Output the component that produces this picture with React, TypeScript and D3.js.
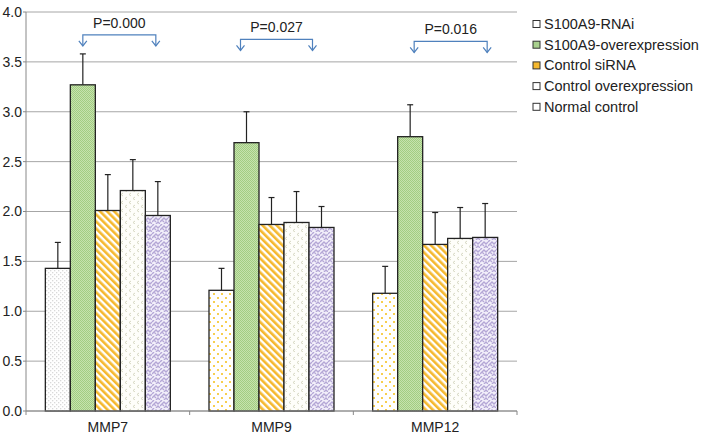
import React from "react";
import * as d3 from "d3";

const categories = ["MMP7", "MMP9", "MMP12"];
const seriesNames = [
  "S100A9-RNAi",
  "S100A9-overexpression",
  "Control siRNA",
  "Control overexpression",
  "Normal control",
];
const means = [
  [1.43, 1.21, 1.18],
  [3.27, 2.69, 2.75],
  [2.01, 1.87, 1.67],
  [2.21, 1.89, 1.73],
  [1.96, 1.84, 1.74],
];
const errTops = [
  [1.69, 1.43, 1.45],
  [3.58, 3.0, 3.07],
  [2.37, 2.14, 1.99],
  [2.52, 2.2, 2.04],
  [2.3, 2.05, 2.08],
];
const yTicks = [0, 0.5, 1.0, 1.5, 2.0, 2.5, 3.0, 3.5, 4.0];
const pLabels = ["P=0.000", "P=0.027", "P=0.016"];
const pLevels = [3.77, 3.725, 3.705];

const W = 703;
const H = 436;
const left = 26;
const right = 517;
const top = 12;
const bottom = 411;
// bracket end offsets (px) from the bar centres of the compared bars
const bracketOffL = [0, -6, 4];
const bracketOffR = [-2, -9, 2];

export default function App() {
  const x0 = d3.scaleBand().domain(categories).range([left, right]).padding(0);
  const bandW = x0.bandwidth();
  const innerW = 125;
  const x1 = d3.scaleBand().domain(seriesNames).range([0, innerW]).padding(0);
  const y = d3.scaleLinear().domain([0, 4]).range([bottom, top]);
  const font = "'Liberation Sans', Arial, Helvetica, sans-serif";
  const fillFor = (si: number, ci: number) => {
    if (si === 0) return ci === 0 ? "url(#pGrayDots)" : "url(#pYellowDots)";
    return ["", "url(#pGreen)", "url(#pStripes)", "url(#pChevron)", "url(#pWeave)"][si];
  };
  const legendFill = ["#ffffff", "#a9d18e", "#f5b82e", "#ffffff", "#ffffff"];
  const arrowColor = "#4f81bd";

  return (
    <svg width={W} height={H} style={{ position: "absolute", left: 0, top: 0 }}>
      <defs>
        <pattern id="pGrayDots" width="4" height="4" patternUnits="userSpaceOnUse">
          <rect width="4" height="4" fill="#fff" />
          <rect x="0" y="0" width="1.3" height="1.3" fill="#d9d9d9" />
          <rect x="2" y="2" width="1.3" height="1.3" fill="#d9d9d9" />
        </pattern>
        <pattern id="pYellowDots" width="8" height="8" patternUnits="userSpaceOnUse">
          <rect width="8" height="8" fill="#fff" />
          <rect x="1" y="1" width="2" height="2" fill="#f7cf4f" />
          <rect x="5" y="5" width="2" height="2" fill="#f7cf4f" />
        </pattern>
        <pattern id="pGreen" width="2" height="2" patternUnits="userSpaceOnUse">
          <rect width="2" height="2" fill="#c6e2ae" />
          <rect x="0" y="0" width="1" height="1" fill="#a2cd82" />
          <rect x="1" y="1" width="1" height="1" fill="#a2cd82" />
        </pattern>
        <pattern
          id="pStripes"
          width="5"
          height="5"
          patternUnits="userSpaceOnUse"
          patternTransform="rotate(-45)"
        >
          <rect width="5" height="5" fill="#fff" />
          <rect x="0" y="0" width="2.6" height="5" fill="#f5b82e" />
        </pattern>
        <pattern id="pChevron" width="8" height="8" patternUnits="userSpaceOnUse">
          <rect width="8" height="8" fill="#fefefa" />
          <path d="M3 1 L1 2.5 L3 4" stroke="#d6d8c2" strokeWidth="1" fill="none" />
          <path d="M7 5 L5 6.5 L7 8" stroke="#d6d8c2" strokeWidth="1" fill="none" />
        </pattern>
        <pattern id="pWeave" width="8" height="8" patternUnits="userSpaceOnUse">
          <rect width="8" height="8" fill="#f2effa" />
          <path
            d="M0 2 L2 0 M0 6 L4 2 L6 4 L8 2 M4 8 L6 6 L8 8 M2 4 L4 6"
            stroke="#b4a7d6"
            strokeWidth="1.4"
            fill="none"
          />
        </pattern>
      </defs>

      {yTicks.map((t) => (
        <line
          key={"g" + t}
          x1={left}
          x2={right}
          y1={y(t)}
          y2={y(t)}
          stroke="#a6a6a6"
          strokeWidth={1}
        />
      ))}
      {yTicks.map((t) => (
        <g key={"t" + t}>
          <line x1={left - 3} x2={left} y1={y(t)} y2={y(t)} stroke="#888" />
          <text
            x={left - 4}
            y={y(t)}
            dy="0.35em"
            textAnchor="end"
            fontFamily={font}
            fontSize={14}
            fill="#222"
          >
            {t.toFixed(1)}
          </text>
        </g>
      ))}
      <line x1={left} x2={left} y1={top} y2={bottom} stroke="#888" />

      {categories.map((c, ci) => {
        const cx = (x0(c) as number) + bandW / 2;
        const start = cx - innerW / 2;
        return (
          <g key={c}>
            {seriesNames.map((s, si) => {
              const bx = start + (x1(s) as number);
              const bw = x1.bandwidth();
              const v = means[si][ci];
              const e = errTops[si][ci];
              const mx = bx + bw / 2;
              return (
                <g key={s}>
                  <line x1={mx} x2={mx} y1={y(v)} y2={y(e)} stroke="#222" strokeWidth={1.2} />
                  <line x1={mx - 3} x2={mx + 3} y1={y(e)} y2={y(e)} stroke="#222" strokeWidth={1.2} />
                  <rect
                    x={bx}
                    y={y(v)}
                    width={bw}
                    height={y(0) - y(v)}
                    fill={fillFor(si, ci)}
                    stroke="#222"
                    strokeWidth={1.3}
                  />
                </g>
              );
            })}
          </g>
        );
      })}

      <line x1={left} x2={right} y1={bottom} y2={bottom} stroke="#888" />
      {[...categories.map((c) => x0(c) as number), right].map((xx, i) => (
        <line key={"xt" + i} x1={xx} x2={xx} y1={bottom} y2={bottom + 4} stroke="#888" />
      ))}
      {categories.map((c) => (
        <text
          key={"xl" + c}
          x={(x0(c) as number) + bandW / 2}
          y={427}
          dy="0.35em"
          textAnchor="middle"
          fontFamily={font}
          fontSize={14}
          fill="#222"
        >
          {c}
        </text>
      ))}

      {categories.map((c, ci) => {
        const cx = (x0(c) as number) + bandW / 2;
        const start = cx - innerW / 2;
        const xa = start + (x1(seriesNames[1]) as number) + x1.bandwidth() / 2 + bracketOffL[ci];
        const xb = start + (x1(seriesNames[4]) as number) + x1.bandwidth() / 2 + bracketOffR[ci];
        const yl = y(pLevels[ci]);
        const yEnd = yl + 11;
        return (
          <g key={"p" + c} stroke={arrowColor} strokeWidth={1.2} fill="none">
            <path d={`M${xa} ${yEnd} L${xa} ${yl} L${xb} ${yl} L${xb} ${yEnd}`} />
            <path d={`M${xa - 4} ${yEnd - 5} L${xa} ${yEnd} L${xa + 4} ${yEnd - 5}`} />
            <path d={`M${xb - 4} ${yEnd - 5} L${xb} ${yEnd} L${xb + 4} ${yEnd - 5}`} />
            <text
              x={(xa + xb) / 2}
              y={yl - 7}
              textAnchor="middle"
              stroke="none"
              fill="#222"
              fontFamily={font}
              fontSize={14}
            >
              {pLabels[ci]}
            </text>
          </g>
        );
      })}

      {seriesNames.map((s, si) => (
        <g key={"lg" + s} transform={`translate(533, ${24 + si * 20.7})`}>
          <rect x={0} y={-3.5} width={7} height={7} fill={legendFill[si]} stroke="#333" strokeWidth={1} />
          <text x={11} y={0} dy="0.35em" fontFamily={font} fontSize={14.5} fill="#222">
            {s}
          </text>
        </g>
      ))}
    </svg>
  );
}
